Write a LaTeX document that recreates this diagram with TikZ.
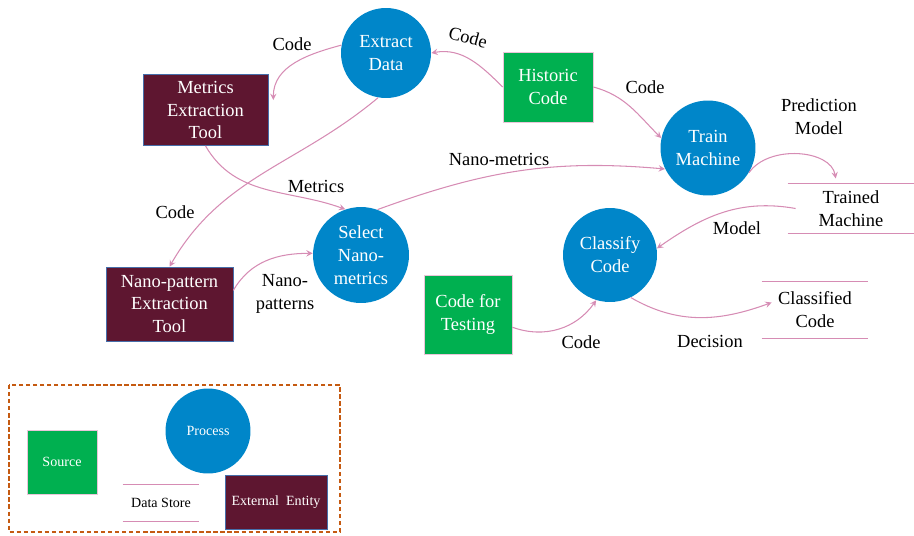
\documentclass[tikz,border=0pt]{standalone}
\usepackage{fontspec}
\setmainfont{Liberation Serif}
\definecolor{procblue}{RGB}{0,134,201}
\definecolor{srcgreen}{RGB}{0,176,80}
\definecolor{entmaroon}{RGB}{94,22,48}
\definecolor{entborder}{RGB}{70,110,170}
\definecolor{flowpink}{RGB}{214,140,180}
\definecolor{legorange}{RGB}{197,90,17}
\newcommand{\dfdfont}{\fontsize{10.5}{13}\selectfont}
\newcommand{\legdfont}{\fontsize{8}{10}\selectfont}
\tikzset{
  process/.style={circle, fill=procblue, text=white, inner sep=0pt, align=center, font=\dfdfont},
  source/.style={rectangle, fill=srcgreen, draw=flowpink!50, text=white, inner sep=0pt, align=center, font=\dfdfont},
  entity/.style={rectangle, fill=entmaroon, draw=entborder, text=white, inner sep=0pt, align=center, font=\dfdfont},
  store/.style={rectangle, inner sep=0pt, align=center, font=\dfdfont},
  storeline/.style={draw=flowpink, line width=0.9pt},
  lbl/.style={inner sep=1pt, align=center, font=\dfdfont},
  legfont/.style={font=\legdfont},
  flow/.style={->, >=stealth, draw=flowpink, line width=0.6pt},
  legframe/.style={draw=legorange, line width=0.8pt, dash pattern=on 2.5pt off 1.5pt}
}
\begin{document}
\begin{tikzpicture}[x=0.02cm, y=-0.02cm]
  \useasboundingbox (0,0) rectangle (914,535);

  % Processes
  \node[process, minimum size=1.8cm] (extract) at (386,53) {Extract\\Data};
  \node[process, minimum size=1.9cm] (train) at (708,148) {Train\\Machine};
  \node[process, minimum size=1.92cm] (select) at (361,255) {Select\\Nano-\\metrics};
  \node[process, minimum size=1.88cm] (classify) at (610,255) {Classify\\Code};

  % Sources
  \node[source, minimum width=1.8cm, minimum height=1.4cm] (historic) at (548,87) {Historic\\Code};
  \node[source, minimum width=1.76cm, minimum height=1.58cm] (testing) at (468,314.5) {Code for\\Testing};

  % External entities
  \node[entity, minimum width=2.5cm, minimum height=1.42cm] (metrics) at (205.5,110) {Metrics\\Extraction\\Tool};
  \node[entity, minimum width=2.54cm, minimum height=1.48cm] (nanotool) at (169.5,304) {Nano-pattern\\Extraction\\Tool};

  % Data stores
  \node[store, minimum width=2.52cm, minimum height=0.98cm] (trained) at (851,208.5) {Trained\\Machine};
  \node[store, minimum width=2.12cm, minimum height=1.12cm] (classified) at (815,310) {Classified\\Code};

  % Flows
  \draw[flow] (historic.west) to[out=135, in=10] (extract.east);
  \draw[flow] (extract.170) to[out=195, in=90] ([shift={(5,-10)}]metrics.east);
  \draw[flow] (extract.260) to[out=220, in=60] (nanotool.north);
  \draw[flow] (metrics.south) to[out=-60, in=160] (select.109);
  \draw[flow] (historic.east) to[out=-15, in=135] (train.168);
  \draw[flow] (select.70) to[out=20, in=175] (train.206);
  \draw[flow, shorten >=3pt] (train.-31) to[out=55, in=100] (trained.120);
  \draw[flow] ([xshift=0.16cm]trained.west) to[out=170, in=35] (classify.8);
  \draw[flow] (nanotool.12) to[out=60, in=180] (select.178);
  \draw[flow] (testing.-16) to[out=-20, in=235] (classify.253);
  \draw[flow] (classify.-64) to[out=-30, in=200] ([xshift=0.2cm]classified.172);

  % Flow labels
  \node[lbl] (lcodea) at (292,44) {Code};
  \node[lbl, rotate=-15] (lcodeb) at (468,37) {Code};
  \node[lbl] (lcodec) at (645,87) {Code};
  \node[lbl] (lpred) at (819,117) {Prediction\\Model};
  \node[lbl] (lnanom) at (499,159) {Nano-metrics};
  \node[lbl] (lmetrics) at (316,186) {Metrics};
  \node[lbl] (lcoded) at (175,212) {Code};
  \node[lbl] (lmodel) at (737,228) {Model};
  \node[lbl] (lnanop) at (285,294) {Nano-\\patterns};
  \node[lbl] (lcodee) at (581,342) {Code};
  \node[lbl] (ldecision) at (710,341) {Decision};

  % Legend
  \draw[legframe] (9,385) rectangle (340,532);
  \node[source, legfont, minimum width=1.4cm, minimum height=1.28cm] (legsource) at (62,462) {Source};
  \node[process, legfont, minimum size=1.7cm] (legprocess) at (208,431) {Process};
  \node[store, legfont, minimum width=1.52cm, minimum height=0.72cm] (legstore) at (161,503) {Data Store};
  \node[entity, legfont, minimum width=2.04cm, minimum height=1.08cm] (legentity) at (276,502) {External\ \ Entity};

  % Store lines
  \foreach \s in {trained, classified, legstore}
    \draw[storeline] (\s.north west) -- (\s.north east) (\s.south west) -- (\s.south east);
\end{tikzpicture}
\end{document}
